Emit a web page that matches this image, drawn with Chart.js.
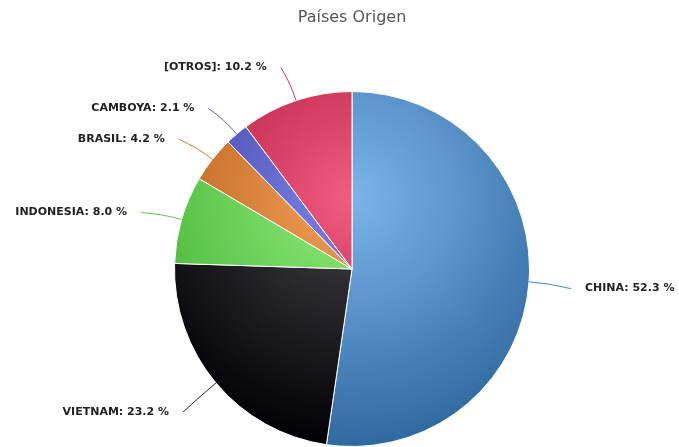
<html>
 <head>
   <meta charset="utf-8" />
   <title>Países Origen</title>
   <style>
     body { margin: 0; background: #fff; }
     #wrap { width: 679px; height: 447px; }
   </style>
 </head>

 <body>
<div id="wrap">
  <canvas id="pie_chart" width="679" height="447"></canvas>
</div>

<script src="https://cdn.jsdelivr.net/npm/chart.js"></script>
<script>

// data
const paises = ["CHINA", "VIETNAM", "INDONESIA", "BRASIL", "CAMBOYA", "[OTROS]"];
const porcentajes = [52.3, 23.2, 8.0, 4.2, 2.1, 10.2];

// highcharts-like default palette, inner / outer of the radial gradient
const colorBase = ["#7cb5ec", "#434348", "#90ed7d", "#f7a35c", "#8085e9", "#f15c80"];
const colorBorde = ["#3069a0", "#000004", "#44b131", "#ab5710", "#34399d", "#a51034"];
const colorLinea = ["#4f86c0", "#222226", "#62c450", "#d27b36", "#5a5fc6", "#cb365a"];

function relleno(c) {
  const i = c.dataIndex;
  const area = c.chart.chartArea;
  if (!area) return colorBase[i];
  const w = area.right - area.left;
  const h = area.bottom - area.top;
  const cx = area.left + w / 2;
  const cy = area.top + h * 0.3;
  const g = c.chart.ctx.createRadialGradient(cx, cy, 0, cx, cy, w * 0.7);
  g.addColorStop(0, colorBase[i]);
  g.addColorStop(1, colorBorde[i]);
  return g;
}

// labels outside the pie with soft connectors
const etiquetas = {
  id: 'etiquetas',
  afterDatasetsDraw(chart) {
    const ctx = chart.ctx;
    const meta = chart.getDatasetMeta(0);
    ctx.save();
    ctx.font = 'bold 11px "DejaVu Sans", Verdana, sans-serif';
    ctx.textBaseline = 'middle';
    meta.data.forEach((arc, i) => {
      const p = arc.getProps(['x', 'y', 'startAngle', 'endAngle', 'outerRadius'], true);
      const mid = (p.startAngle + p.endAngle) / 2;
      const cos = Math.cos(mid), sin = Math.sin(mid);
      const r = p.outerRadius;
      const side = cos >= 0 ? 1 : -1;
      const ex = p.x + cos * r, ey = p.y + sin * r;
      const qx = p.x + cos * (r + 20), qy = p.y + sin * (r + 20);
      const R = r + 39;
      const lx = p.x + cos * R + side * 3;
      const ly = p.y + sin * R + 4;

      ctx.strokeStyle = colorLinea[i];
      ctx.lineWidth = 1;
      ctx.beginPath();
      ctx.moveTo(lx, ly);
      ctx.quadraticCurveTo(qx, qy, ex, ey);
      ctx.stroke();

      ctx.fillStyle = '#222';
      ctx.textAlign = side > 0 ? 'left' : 'right';
      const val = chart.data.datasets[0].data[i];
      ctx.fillText(chart.data.labels[i] + ': ' + val.toFixed(1) + ' %', lx + side * 14, ly);
    });
    ctx.restore();
  }
};

var ctx = document.getElementById('pie_chart');
var pie_chart = new Chart(ctx, {
  type: 'pie',
  data: {
    labels: paises,
    datasets: [{
      data: porcentajes,
      backgroundColor: relleno,
      borderColor: '#ffffff',
      borderWidth: 1
    }]
  },
  options: {
    responsive: false,
    animation: false,
    events: [],
    layout: { padding: { left: 174, right: 149, top: 0, bottom: 0 } },
    plugins: {
      legend: { display: false },
      tooltip: { enabled: false },
      title: {
        display: true,
        text: 'Países Origen',
        color: '#555',
        font: { family: '"DejaVu Sans", sans-serif', size: 16, weight: 'normal' },
        padding: { top: 8, bottom: 63.8 }
      }
    }
  },
  plugins: [etiquetas]
});

</script>
</body>
</html>
